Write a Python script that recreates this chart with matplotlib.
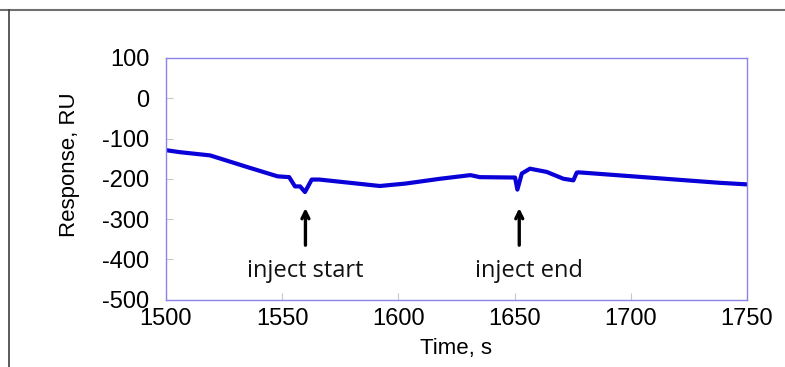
import matplotlib
matplotlib.use("Agg")
import matplotlib.pyplot as plt
from matplotlib.lines import Line2D

# sensorgram trace
time_s = [1500, 1506, 1519, 1535, 1548, 1553, 1555.5, 1557.7, 1559.8, 1562.7, 1566,
          1592, 1603, 1618, 1631, 1635, 1650.2, 1651.2, 1653.1, 1656.6, 1663.8,
          1671, 1675.3, 1676.7, 1677.4, 1738, 1750]
response = [-129, -134, -142, -171, -194, -196, -219, -219, -233, -202, -202,
            -218, -212, -200, -191, -196, -197, -227, -187, -175, -183,
            -200, -204, -185, -184, -210, -214]

events = ["inject start", "inject end"]
event_time = [1560, 1652]
event_text_x = [1560, 1656]

plt.rcParams['font.family'] = ['Liberation Sans', 'DejaVu Sans']
plt.rcParams['axes.unicode_minus'] = False

fig = plt.figure(figsize=(7.85, 3.67), dpi=100)
ax = fig.add_axes([166 / 785, 1 - 299.5 / 367, (747 - 166) / 785, (299.5 - 58) / 367])

ax.plot(time_s, response, color="#0a00d8", lw=3, solid_joinstyle='round')

ax.set_xlim(1500, 1750)
ax.set_ylim(-500, 100)
ax.set_xticks([1500, 1550, 1600, 1650, 1700, 1750])
ax.set_yticks([-500, -400, -300, -200, -100, 0, 100])
ax.tick_params(direction='in', length=5, color='#c8c8c8', labelsize=17)
ax.tick_params(axis='y', pad=12)
ax.tick_params(axis='x', pad=6)
for s in ax.spines.values():
    s.set_color('#8c84e8')
    s.set_linewidth(1)

ax.set_xlabel("Time, s", fontsize=16, labelpad=6)
ax.set_ylabel("Response, RU", fontsize=16)
ax.yaxis.set_label_coords(-0.148, 0.56)

for name, t, tx in zip(events, event_time, event_text_x):
    ax.annotate("", xy=(t, -266), xytext=(t, -372),
                arrowprops=dict(arrowstyle="->,head_length=0.5,head_width=0.25",
                                color='black', lw=2.4))
    ax.text(tx, -444, name, ha='center', va='baseline', fontsize=17,
            family=['Open Sans', 'DejaVu Sans'], color='#111111')

# grey frame lines round the picture
fig.add_artist(Line2D([0, 1], [1 - 10 / 367, 1 - 10 / 367], color='#707070', lw=1.5))
fig.add_artist(Line2D([9 / 785, 9 / 785], [0, 1 - 10 / 367], color='#404040', lw=1.2))

fig.savefig("out.png", dpi=100)
